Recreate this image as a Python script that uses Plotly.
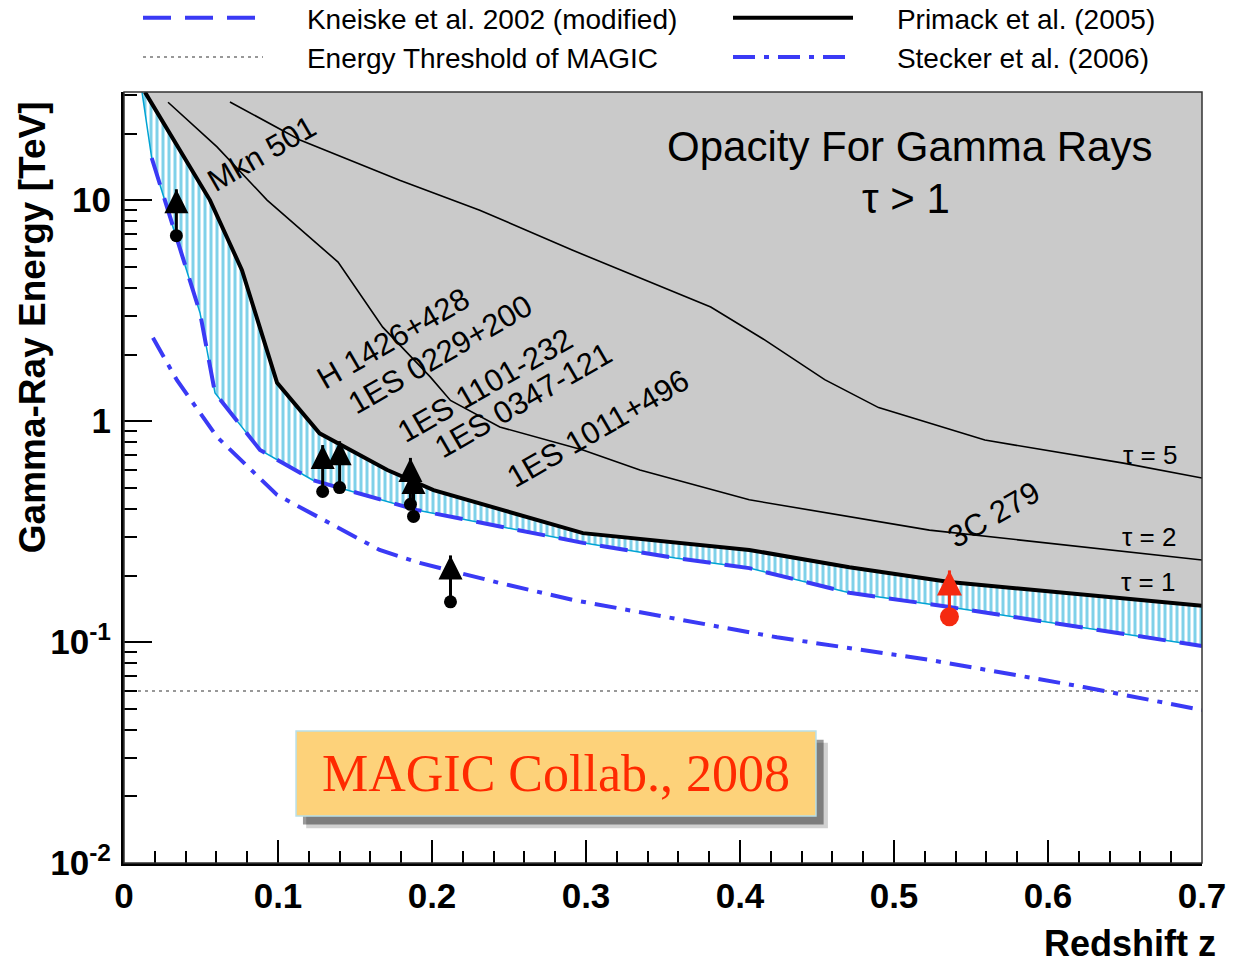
import numpy as np
import plotly.graph_objects as go

# ---------------- data ----------------
# Kneiske et al. 2002 (modified), tau = 1
z_kneiske = [0.0117, 0.018, 0.0344, 0.0494, 0.0591, 0.0883, 0.1227, 0.190, 0.298, 0.358, 0.406, 0.471, 0.536, 0.700]
E_kneiske = [30.8, 15.5, 6.6, 3.08, 1.34, 0.74, 0.54, 0.396, 0.281, 0.240, 0.216, 0.167, 0.144, 0.096]

# Primack et al. (2005), tau = 1
z_primack = [0.0136, 0.0558, 0.0766, 0.0994, 0.127, 0.171, 0.201, 0.298, 0.406, 0.471, 0.536, 0.700]
E_primack = [30.8, 10.0, 4.82, 1.49, 0.88, 0.60, 0.487, 0.311, 0.261, 0.218, 0.187, 0.146]

# Primack et al. (2005), tau = 2
z_tau2 = [0.0286, 0.0604, 0.0929, 0.139, 0.168, 0.199, 0.212, 0.244, 0.298, 0.335, 0.406, 0.471, 0.523, 0.700]
E_tau2 = [27.7, 17.4, 10.0, 5.24, 2.66, 1.58, 1.24, 0.94, 0.739, 0.60, 0.44, 0.368, 0.321, 0.235]

# Primack et al. (2005), tau = 5
z_tau5 = [0.0688, 0.1143, 0.179, 0.231, 0.291, 0.381, 0.416, 0.455, 0.490, 0.559, 0.649, 0.700]
E_tau5 = [27.8, 18.7, 12.3, 9.0, 5.94, 3.28, 2.33, 1.54, 1.15, 0.82, 0.645, 0.552]

# Stecker et al. (2006)
z_stecker = [0.0188, 0.0344, 0.0604, 0.0994, 0.166, 0.192, 0.244, 0.2916, 0.424, 0.523, 0.623, 0.700]
E_stecker = [2.38, 1.53, 0.847, 0.463, 0.261, 0.228, 0.185, 0.155, 0.105, 0.083, 0.0626, 0.0492]

# Energy threshold of MAGIC
threshold_E = 0.06
z_range = [0.0, 0.7]

# Sources (lower limits)
src_names = ["Mkn 501", "H 1426+428", "1ES 0229+200", "1ES 1101-232", "1ES 0347-121", "1ES 1011+496"]
src_z = [0.034, 0.129, 0.140, 0.186, 0.188, 0.212]
src_E = [6.9, 0.48, 0.50, 0.42, 0.37, 0.152]
qso_name = "3C 279"
qso_z = [0.536]
qso_E = [0.13]

# axis
y_log_range = [-2.0, 1.489]
x_ticks = [0.0, 0.1, 0.2, 0.3, 0.4, 0.5, 0.6, 0.7]
y_tickvals = [0.01, 0.1, 1, 10]
y_ticktext = ["10<sup>-2</sup>", "10<sup>-1</sup>", "1", "10"]

# ---------------- styles / positions ----------------
LIMIT_DEX = 0.21          # length of the lower-limit arrows (decades)
GRAY = "#cacaca"
CYAN = "#00a3d4"
BLUE = "#3a3af5"
FONT = "Liberation Sans"
PAD = "\u00a0" * 5        # gap between legend symbol and text

label_pos = {  # (z, E) of label centres
    "Mkn 501": (0.0896, 16.3),
    "H 1426+428": (0.1747, 2.375),
    "1ES 0229+200": (0.2052, 2.01),
    "1ES 1101-232": (0.2344, 1.455),
    "1ES 0347-121": (0.2591, 1.245),
    "1ES 1011+496": (0.3078, 0.929),
    "3C 279": (0.565, 0.376),
}
tau_labels = [("\u03c4 = 5", 0.666, 0.701), ("\u03c4 = 2", 0.6656, 0.298), ("\u03c4 = 1", 0.665, 0.187)]

y_top = 10 ** y_log_range[1]

fig = go.Figure()

# opaque region (tau > 1)
fig.add_trace(go.Scatter(
    x=z_primack + [z_range[1], z_primack[0]],
    y=E_primack + [y_top, y_top],
    fill="toself", fillcolor=GRAY, line=dict(width=0), mode="lines",
    showlegend=False, hoverinfo="skip"))

# hatched band between the two tau=1 models
fig.add_trace(go.Scatter(
    x=z_kneiske + z_primack[::-1],
    y=E_kneiske + E_primack[::-1],
    fill="toself", fillcolor="white",
    fillpattern=dict(shape="|", fgcolor=CYAN, bgcolor="white", size=6, solidity=0.5),
    line=dict(color=CYAN, width=1.5), mode="lines",
    showlegend=False, hoverinfo="skip"))

# threshold
fig.add_trace(go.Scatter(
    x=z_range, y=[threshold_E, threshold_E], mode="lines",
    line=dict(color="#777777", width=1.5, dash="3px,4px"),
    name=PAD + "Energy Threshold of MAGIC", legend="legend", legendrank=2))

# Stecker
fig.add_trace(go.Scatter(
    x=z_stecker, y=E_stecker, mode="lines",
    line=dict(color=BLUE, width=4, dash="22px,9px,5px,9px"),
    name=PAD + "Stecker et al. (2006)", legend="legend2", legendrank=2))

# tau = 5, tau = 2
fig.add_trace(go.Scatter(x=z_tau5, y=E_tau5, mode="lines", line=dict(color="black", width=1.6),
                         showlegend=False))
fig.add_trace(go.Scatter(x=z_tau2, y=E_tau2, mode="lines", line=dict(color="black", width=1.6),
                         showlegend=False))

# Kneiske (dashed curve starts below the top edge, as in the reference)
fig.add_trace(go.Scatter(
    x=z_kneiske[1:], y=E_kneiske[1:], mode="lines",
    line=dict(color=BLUE, width=4, dash="28px,14px"),
    name=PAD + "Kneiske et al. 2002 (modified)", legend="legend", legendrank=1))

# Primack tau=1
fig.add_trace(go.Scatter(
    x=z_primack, y=E_primack, mode="lines",
    line=dict(color="black", width=4),
    name=PAD + "Primack et al. (2005)", legend="legend2", legendrank=1))

# lower limits
def add_limits(zs, Es, color, dot_size, head_size):
    stem_x, stem_y = [], []
    for z, e in zip(zs, Es):
        stem_x += [z, z, None]
        stem_y += [e, e * 10 ** LIMIT_DEX, None]
    fig.add_trace(go.Scatter(x=stem_x, y=stem_y, mode="lines",
                             line=dict(color=color, width=3), showlegend=False, hoverinfo="skip"))
    fig.add_trace(go.Scatter(x=zs, y=[e * 10 ** LIMIT_DEX for e in Es], mode="markers",
                             marker=dict(symbol="arrow-up", size=head_size, color=color,
                                         line=dict(width=0)),
                             showlegend=False, hoverinfo="skip"))
    fig.add_trace(go.Scatter(x=zs, y=Es, mode="markers",
                             marker=dict(symbol="circle", size=dot_size, color=color,
                                         line=dict(width=0)),
                             showlegend=False))

add_limits(src_z, src_E, "black", 13, 24)
add_limits(qso_z, qso_E, "#f52a10", 19, 25)

annotations = []
for name in src_names + [qso_name]:
    zc, ec = label_pos[name]
    annotations.append(dict(x=zc, y=np.log10(ec), xref="x", yref="y", text=name, showarrow=False,
                            textangle=-30, font=dict(family=FONT, size=31, color="black"),
                            xanchor="center", yanchor="middle"))
for txt, zc, ec in tau_labels:
    annotations.append(dict(x=zc, y=np.log10(ec), xref="x", yref="y", text=txt, showarrow=False,
                            font=dict(family=FONT, size=26, color="black"),
                            xanchor="center", yanchor="middle"))

def paper_text(x, y, text, font, **kw):
    d = dict(x=x, y=y, xref="paper", yref="paper", text=text, showarrow=False, font=font,
             xanchor="center", yanchor="middle")
    d.update(kw)
    annotations.append(d)

# titles inside the plot
paper_text(0.729, 0.9287, "Opacity For Gamma Rays", dict(family=FONT, size=42, color="black"))
paper_text(0.7254, 0.8625, "\u03c4 > 1", dict(family=FONT, size=42, color="black"))
# axis titles
paper_text(-0.0853, 0.695, "Gamma-Ray Energy [TeV]",
           dict(family=FONT, size=37, color="black", weight="bold"), textangle=-90)
paper_text(1.0148, -0.104, "Redshift z",
           dict(family=FONT, size=36, color="black", weight="bold"), xanchor="right")
# credit box text
paper_text(0.4007, 0.1167, "MAGIC Collab., 2008", dict(family="Liberation Serif", size=52, color="#ff2a00"))

shapes = [
    # frame
    dict(type="rect", xref="paper", yref="paper", x0=0, x1=1, y0=0, y1=1,
         line=dict(color="#333333", width=1.5), layer="above"),
    # credit box shadow + box
    dict(type="rect", xref="paper", yref="paper", x0=0.169, x1=0.653, y0=0.045, y1=0.156,
         fillcolor="rgba(0,0,0,0.18)", line=dict(width=0), layer="above"),
    dict(type="rect", xref="paper", yref="paper", x0=0.166, x1=0.649, y0=0.050, y1=0.160,
         fillcolor="rgba(0,0,0,0.40)", line=dict(width=0), layer="above"),
    dict(type="rect", xref="paper", yref="paper", x0=0.1596, x1=0.6419, y0=0.061, y1=0.1712,
         fillcolor="#fdd27a", line=dict(color="#b9dfe8", width=1.5), layer="above"),
]

minor_y = [m * 10.0 ** k for k in range(-2, 2) for m in range(2, 10)]

LEG_W = 120
legend_common = dict(yref="paper", xref="container", xanchor="left", yanchor="top",
                     orientation="v", font=dict(family=FONT, size=28, color="black"), itemwidth=LEG_W,
                     bgcolor="rgba(0,0,0,0)", tracegroupgap=0, y=1 + 99 / 771)

fig.update_layout(
    width=1234, height=965,
    margin=dict(l=124, r=32, t=92, b=102, autoexpand=False),
    paper_bgcolor="white", plot_bgcolor="white",
    annotations=annotations, shapes=shapes,
    legend=dict(x=138 / 1234, **legend_common),
    legend2=dict(x=728 / 1234, **legend_common),
    xaxis=dict(range=z_range, tickmode="array", tickvals=x_ticks, ticktext=[f"{v:g}" for v in x_ticks],
               ticks="inside", ticklen=23, tickwidth=2, tickcolor="black",
               showline=True, linewidth=3, linecolor="black", showgrid=False, zeroline=False,
               tickfont=dict(family=FONT, size=35, weight="bold", color="black"),
               ticklabelstandoff=0,
               minor=dict(dtick=0.02, tick0=0, ticks="inside", ticklen=12, tickwidth=2,
                          tickcolor="black", showgrid=False)),
    yaxis=dict(type="log", range=y_log_range, tickmode="array", tickvals=y_tickvals, ticktext=y_ticktext,
               ticks="inside", ticklen=28, tickwidth=2, tickcolor="black",
               showline=True, linewidth=3, linecolor="black", showgrid=False, zeroline=False,
               tickfont=dict(family=FONT, size=35, weight="bold", color="black"),
               ticklabelstandoff=3,
               minor=dict(tickmode="array", tickvals=minor_y, ticks="inside", ticklen=13, tickwidth=2,
                          tickcolor="black", showgrid=False)),
)

fig.write_html("out.html")
